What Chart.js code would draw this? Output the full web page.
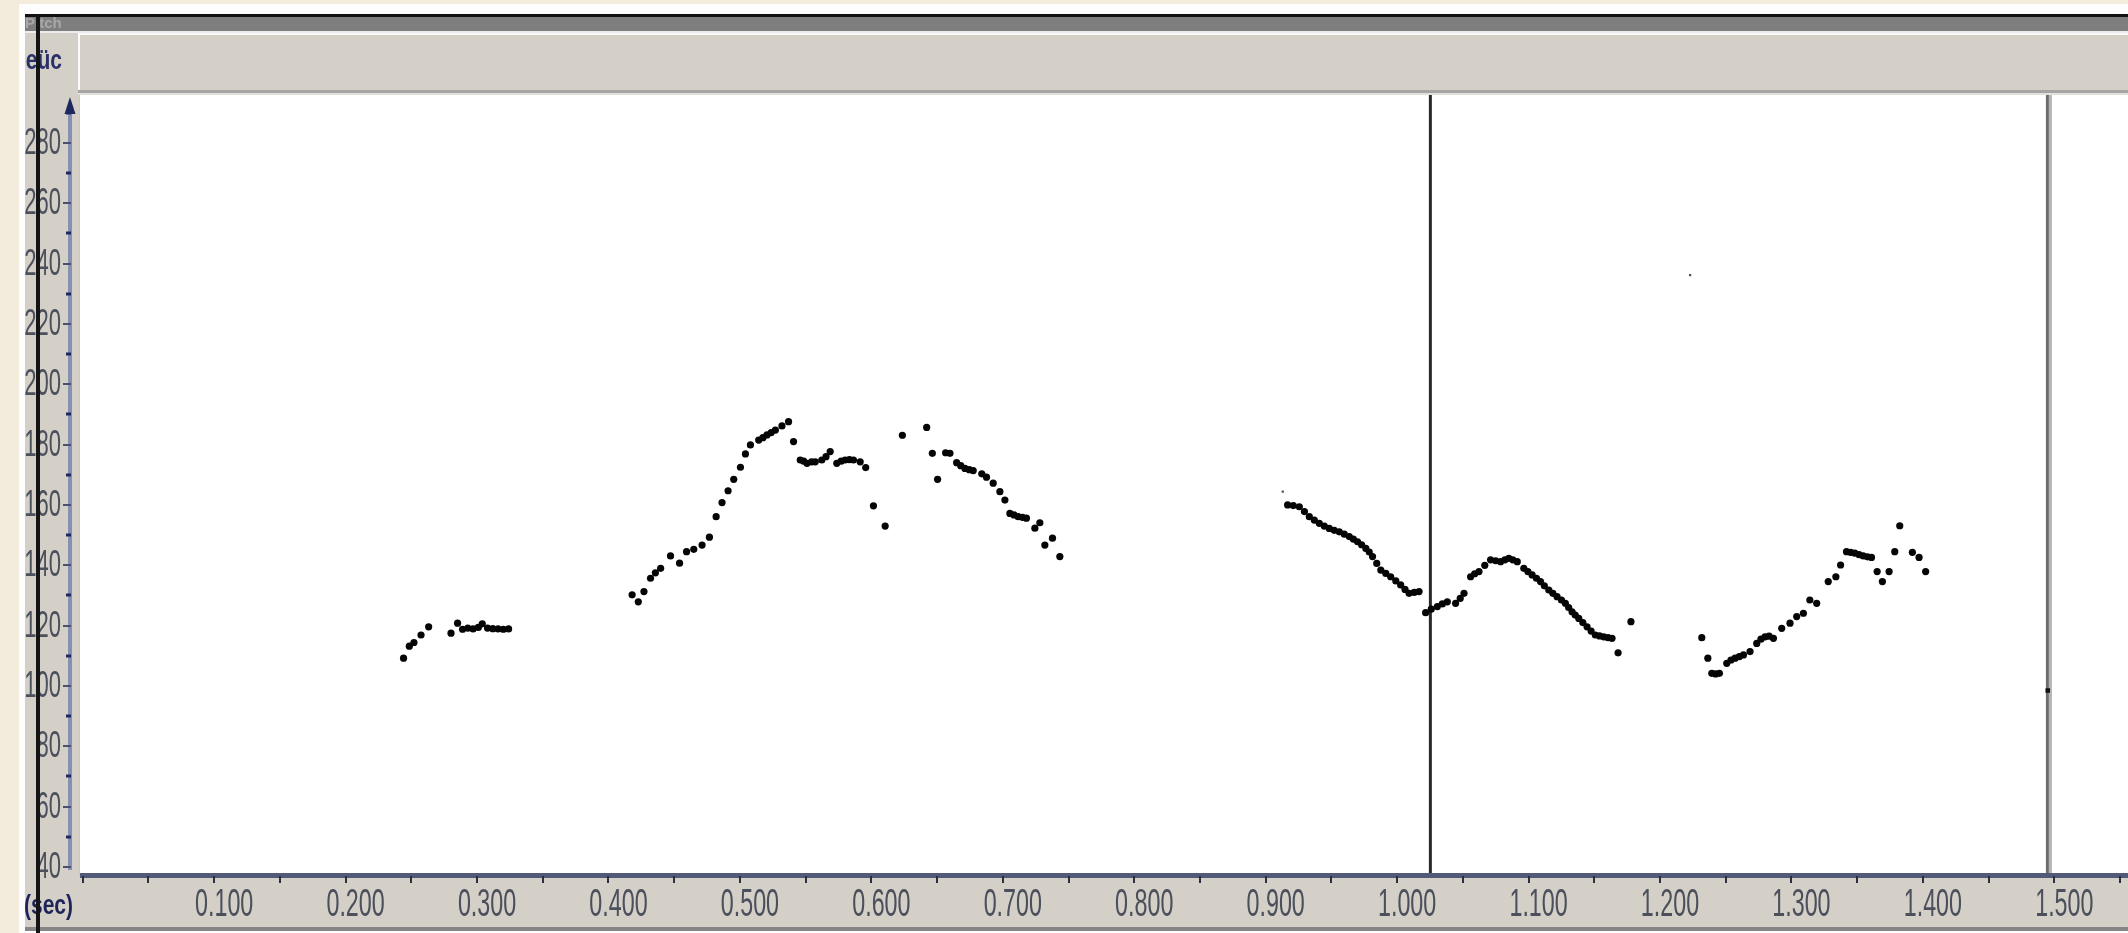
<!DOCTYPE html>
<html>
<head>
<meta charset="utf-8">
<script src="https://cdn.jsdelivr.net/npm/chart.js@4.4.1/dist/chart.umd.min.js"></script>
<style>
  html, body { margin: 0; padding: 0; background: #f3ebdc; }
  #wrap { width: 2128px; height: 933px; position: relative; }
  canvas { display: block; }
</style>
</head>
<body>
<div id="wrap"><canvas id="pitch" width="2128" height="933"></canvas></div>
<script>
// Pitch track: time (s) and fundamental frequency (Hz) of each voiced frame
const times = [
  0.2441, 0.2485, 0.2520, 0.2574, 0.2632,
  0.2802, 0.2852, 0.2890, 0.2930, 0.2970, 0.3010, 0.3040, 0.3080, 0.3120, 0.3160, 0.3200, 0.3240,
  0.4180, 0.4227, 0.4270, 0.4320, 0.4357, 0.4397, 0.4472, 0.4541, 0.4594, 0.4649, 0.4712, 0.4768,
  0.4819, 0.4864, 0.4910, 0.4953, 0.5004, 0.5042, 0.5080, 0.5143, 0.5175, 0.5206, 0.5238, 0.5270,
  0.5320, 0.5370, 0.5408, 0.5459, 0.5485, 0.5510, 0.5545, 0.5573, 0.5623, 0.5655, 0.5687, 0.5737,
  0.5770, 0.5801, 0.5833, 0.5864, 0.5915, 0.5957, 0.6016, 0.6105,
  0.6236, 0.6421, 0.6464, 0.6504, 0.6565, 0.6598, 0.6649, 0.6680, 0.6712, 0.6745, 0.6775, 0.6840,
  0.6876, 0.6927, 0.6978, 0.7016, 0.7054, 0.7085, 0.7117, 0.7150, 0.7180, 0.7244, 0.7282, 0.7320,
  0.7378, 0.7434,
  0.9167, 0.9210, 0.9256, 0.9295, 0.9332, 0.9370, 0.9408, 0.9446, 0.9484, 0.9522, 0.9560, 0.9598,
  0.9636, 0.9667, 0.9699, 0.9730, 0.9762, 0.9788, 0.9813, 0.9845, 0.9876, 0.9914, 0.9951, 0.9990,
  1.0027, 1.0060, 1.0091, 1.0130, 1.0167, 1.0217, 1.0260, 1.0306, 1.0344, 1.0382, 1.0445, 1.0480,
  1.0509, 1.0559, 1.0590, 1.0623, 1.0667, 1.0711, 1.0750, 1.0787, 1.0820, 1.0850, 1.0880, 1.0914,
  1.0964, 1.0995, 1.1027, 1.1060, 1.1091, 1.1120, 1.1154, 1.1185, 1.1217, 1.1250, 1.1280, 1.1305,
  1.1331, 1.1355, 1.1382, 1.1413, 1.1445, 1.1476, 1.1508, 1.1540, 1.1572, 1.1605, 1.1635, 1.1681,
  1.1779,
  1.2318, 1.2364, 1.2394, 1.2423, 1.2452, 1.2508, 1.2540, 1.2571, 1.2603, 1.2635, 1.2685, 1.2736,
  1.2768, 1.2799, 1.2830, 1.2863, 1.2926, 1.2989, 1.3040, 1.3091, 1.3140, 1.3192, 1.3280, 1.3338,
  1.3374, 1.3419, 1.3450, 1.3482, 1.3515, 1.3546, 1.3578, 1.3609, 1.3652, 1.3692, 1.3743, 1.3786,
  1.3824, 1.3920, 1.3971, 1.4021
];
const pitchHz = [
  109.2, 113.2, 114.4, 116.9, 119.6,
  117.5, 120.8, 118.8, 119.2, 118.9, 119.4, 120.6, 119.2, 119.0, 118.9, 118.8, 118.9,
  130.2, 127.9, 131.3, 135.7, 137.5, 139.0, 143.1, 140.7, 144.5, 145.3, 146.7, 149.3,
  156.1, 160.8, 164.7, 168.5, 172.5, 176.9, 179.9, 181.5, 182.3, 183.2, 184.0, 184.8,
  186.2, 187.6, 181.0, 174.9, 174.5, 173.8, 174.3, 174.3, 174.9, 176.0, 177.7, 173.8,
  174.5, 174.9, 175.0, 174.9, 174.3, 172.4, 159.7, 153.0,
  183.1, 185.7, 177.1, 168.5, 177.3, 177.1, 174.0, 173.0, 172.1, 171.7, 171.4, 170.3,
  169.2, 167.2, 164.4, 161.6, 157.2, 156.7, 156.1, 155.9, 155.6, 152.3, 154.1, 146.7,
  149.0, 142.9,
  160.0, 159.8, 159.4, 157.8, 156.1, 155.0, 153.9, 153.0, 152.2, 151.6, 151.1, 150.3,
  149.5, 148.7, 147.8, 146.8, 145.6, 144.4, 142.9, 140.6, 138.4, 137.3, 136.2, 134.8,
  133.5, 132.0, 130.7, 131.0, 131.3, 124.3, 125.5, 126.3, 127.2, 127.9, 127.4, 129.0,
  130.7, 136.2, 137.2, 137.9, 140.0, 141.8, 141.5, 141.2, 141.8, 142.3, 141.8, 141.2,
  139.0, 137.9, 136.8, 135.7, 134.6, 133.2, 131.8, 130.7, 129.6, 128.5, 127.4, 126.0,
  124.6, 123.5, 122.4, 121.0, 119.6, 118.2, 116.9, 116.6, 116.3, 116.0, 115.8, 111.0,
  121.3,
  116.0, 109.2, 104.2, 104.0, 104.2, 107.5, 108.6, 109.2, 109.7, 110.3, 111.4, 114.1,
  115.5, 116.3, 116.5, 115.8, 119.1, 120.8, 123.0, 124.1, 128.5, 127.4, 134.6, 136.2,
  140.1, 144.5, 144.3, 144.0, 143.5, 143.1, 142.8, 142.6, 137.9, 134.6, 137.9, 144.5,
  153.1, 144.3, 142.6, 137.9
];
// Weak, isolated detections
const weakTimes = [0.9130, 1.2229];
const weakHz = [164.4, 236.2];
// Detection sitting on the selection edge
const edgeTimes = [1.4950];
const edgeHz = [98.5];

// Cursor and selection-end times (s)
const cursorTimes = [1.0253];
const selectionEndTimes = [1.4955];

// Axis ticks
const freqTicks = [40, 60, 80, 100, 120, 140, 160, 180, 200, 220, 240, 260, 280];
const freqMinorTicks = [50, 70, 90, 110, 130, 150, 170, 190, 210, 230, 250, 270, 290];
const timeTicks = [0.1, 0.2, 0.3, 0.4, 0.5, 0.6, 0.7, 0.8, 0.9, 1.0, 1.1, 1.2, 1.3, 1.4, 1.5];
const timeTickLabels = ['0.100', '0.200', '0.300', '0.400', '0.500', '0.600', '0.700', '0.800',
                        '0.900', '1.000', '1.100', '1.200', '1.300', '1.400', '1.500'];
const timeMarkStep = 0.05;

const PANEL = '#d4d0c8';

function stretchedText(ctx, text, x, y, align, sx, sy) {
  ctx.save();
  ctx.translate(x, y);
  ctx.scale(sx, sy);
  ctx.textAlign = align;
  ctx.textBaseline = 'middle';
  ctx.fillText(text, 0, 0);
  ctx.restore();
}

const windowFrame = {
  id: 'windowFrame',
  beforeDraw(chart) {
    const c = chart.ctx, W = chart.width, H = chart.height, a = chart.chartArea;
    c.save();
    c.fillStyle = '#f3ebdc'; c.fillRect(0, 0, W, H);
    c.fillStyle = '#fdfdfd'; c.fillRect(19, 4, W - 19, H - 4);
    // title bar
    c.fillStyle = '#111'; c.fillRect(25, 14, W - 25, 3);
    c.fillStyle = '#7e7e7e'; c.fillRect(25, 17, W - 25, 14);
    c.fillStyle = '#ececec'; c.fillRect(25, 31, W - 25, 2);
    // side panel and toolbar strip
    c.fillStyle = PANEL; c.fillRect(25, 33, W - 25, H - 33 - 4);
    c.fillStyle = '#fafafa'; c.fillRect(78, 33, W - 78, 2); c.fillRect(78, 33, 2, 58);
    c.fillStyle = '#a6a6a6'; c.fillRect(78, 90, W - 78, 3);
    c.fillStyle = '#e2e0da'; c.fillRect(78, 93, W - 78, 2);
    // plot paper
    c.fillStyle = '#c9c9c9'; c.fillRect(79, a.top, 1, a.bottom - a.top);
    c.fillStyle = '#ffffff'; c.fillRect(80, a.top, W - 80, a.bottom - a.top);
    // bottom edge
    c.fillStyle = '#858585'; c.fillRect(25, H - 6, W - 25, 4);
    c.restore();
  },
  beforeDatasetsDraw(chart) {
    const c = chart.ctx, a = chart.chartArea, xs = chart.scales.x;
    c.save();
    cursorTimes.forEach(t => {
      const px = xs.getPixelForValue(t);
      c.fillStyle = '#2a2a2a'; c.fillRect(px - 1.5, a.top, 3, a.bottom - a.top);
    });
    selectionEndTimes.forEach(t => {
      const px = xs.getPixelForValue(t);
      c.fillStyle = '#6c6c6c'; c.fillRect(px - 2.5, a.top, 3, a.bottom - a.top);
      c.fillStyle = '#b4b4b4'; c.fillRect(px + 0.5, a.top, 3, a.bottom - a.top);
    });
    c.restore();
  },
  afterDraw(chart) {
    const c = chart.ctx, a = chart.chartArea, W = chart.width, H = chart.height;
    const xs = chart.scales.x, ys = chart.scales.y;
    c.save();
    // vertical frequency axis with arrow head
    c.fillStyle = '#8690b0'; c.fillRect(68, 104, 4, ys.getPixelForValue(40) + 3 - 104);
    c.fillStyle = '#1e2860';
    c.beginPath(); c.moveTo(70, 97); c.lineTo(75.5, 114); c.lineTo(64.5, 114); c.closePath(); c.fill();
    freqMinorTicks.forEach(v => {
      const py = Math.round(ys.getPixelForValue(v));
      c.fillStyle = '#1e2860'; c.fillRect(66, py - 1.5, 5, 3);
    });
    c.font = '22px "Liberation Sans", Arial, sans-serif';
    freqTicks.forEach(v => {
      const py = Math.round(ys.getPixelForValue(v));
      c.fillStyle = '#4b5070'; c.fillRect(63, py - 1, 8, 2);
      c.fillStyle = '#4c505c';
      stretchedText(c, String(v), 61, py + 1, 'right', 1.0, 1.68);
    });
    // horizontal time axis
    c.fillStyle = PANEL; c.fillRect(80, a.bottom, W - 80, H - 6 - a.bottom);
    c.fillStyle = '#525a78'; c.fillRect(80, a.bottom - 3, W - 80, 5);
    const nMarks = Math.floor(xs.max / timeMarkStep + 1e-6);
    for (let i = 0; i <= nMarks; i++) {
      const px = Math.round(xs.getPixelForValue(i * timeMarkStep));
      c.fillStyle = '#2c2f40'; c.fillRect(px - 1, a.bottom, 2, 7);
    }
    c.font = '24px "Liberation Sans", Arial, sans-serif';
    c.fillStyle = '#4c505c';
    timeTicks.forEach((t, i) => {
      const px = xs.getPixelForValue(t);
      stretchedText(c, timeTickLabels[i], px + 10, 905, 'center', 0.97, 1.62);
    });
    // unit captions
    c.fillStyle = '#1e2458';
    c.font = 'bold 21px "Liberation Sans", Arial, sans-serif';
    stretchedText(c, '(sec)', 73, 906, 'right', 1.0, 1.3);
    c.fillStyle = '#2a3068';
    stretchedText(c, 'eüc', 62, 61, 'right', 1.0, 1.3);
    // window title
    c.fillStyle = '#a8a8a8';
    c.font = 'bold 15px "Liberation Sans", Arial, sans-serif';
    c.textAlign = 'left'; c.textBaseline = 'middle';
    c.fillText('Pitch', 25, 24);
    // window edge line
    c.fillStyle = '#141414'; c.fillRect(36, 14, 4, H - 14);
    c.restore();
  }
};

const pitchPoints = times.map((t, i) => ({ x: t, y: pitchHz[i] }));
const weakPoints = weakTimes.map((t, i) => ({ x: t, y: weakHz[i] }));
const edgePoints = edgeTimes.map((t, i) => ({ x: t, y: edgeHz[i] }));

new Chart(document.getElementById('pitch'), {
  type: 'scatter',
  data: {
    datasets: [
      {
        label: 'Pitch',
        data: pitchPoints,
        pointRadius: 3.6,
        pointStyle: 'circle',
        pointBackgroundColor: '#050505',
        pointBorderWidth: 0,
        showLine: false
      },
      {
        label: 'Weak',
        data: weakPoints,
        pointRadius: 1.6,
        pointStyle: 'rect',
        pointBackgroundColor: '#555555',
        pointBorderWidth: 0,
        showLine: false
      },
      {
        label: 'Edge',
        data: edgePoints,
        pointRadius: 3.2,
        pointStyle: 'rect',
        pointBackgroundColor: '#111111',
        pointBorderWidth: 0,
        showLine: false
      }
    ]
  },
  options: {
    responsive: false,
    devicePixelRatio: 1,
    animation: false,
    events: [],
    layout: { padding: { left: 82.7, right: 0, top: 95, bottom: 57 } },
    scales: {
      x: { type: 'linear', min: 0, max: 1.55301, display: false },
      y: { type: 'linear', min: 37.017, max: 295.87, display: false }
    },
    plugins: { legend: { display: false }, tooltip: { enabled: false } }
  },
  plugins: [windowFrame]
});
</script>
</body>
</html>
